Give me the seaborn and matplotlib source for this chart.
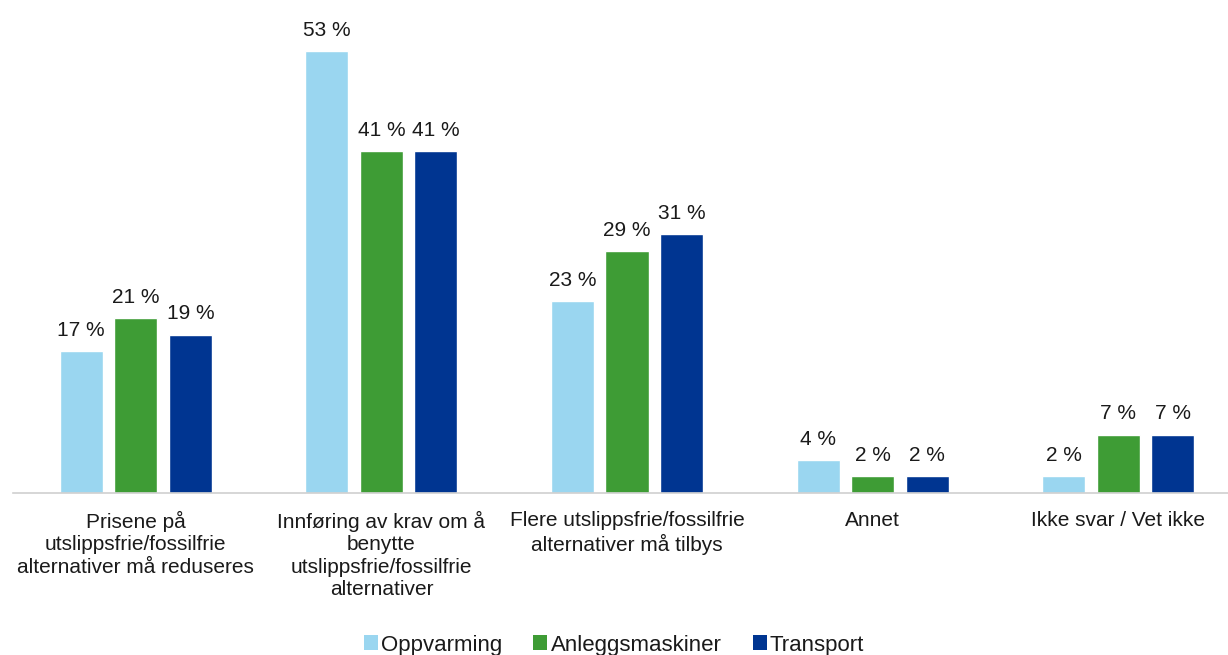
import matplotlib
matplotlib.use("Agg")
import matplotlib.pyplot as plt
import seaborn as sns
import pandas as pd
from matplotlib.patches import Patch

categories = [
    "Prisene på\nutslippsfrie/fossilfrie\nalternativer må reduseres",
    "Innføring av krav om å\nbenytte\nutslippsfrie/fossilfrie\nalternativer",
    "Flere utslippsfrie/fossilfrie\nalternativer må tilbys",
    "Annet",
    "Ikke svar / Vet ikke",
]
series = ["Oppvarming", "Anleggsmaskiner", "Transport"]
oppvarming = [17, 53, 23, 4, 2]
anleggsmaskiner = [21, 41, 29, 2, 7]
transport = [19, 41, 31, 2, 7]
colors = ["#9AD6F0", "#3E9C35", "#003591"]

rows = []
for name, vals in zip(series, [oppvarming, anleggsmaskiner, transport]):
    for c, v in zip(categories, vals):
        rows.append({"Kategori": c, "Serie": name, "Verdi": v})
df = pd.DataFrame(rows)

sns.set_theme(style="white")
plt.rcParams["font.family"] = ["Liberation Sans", "DejaVu Sans"]

fig = plt.figure(figsize=(12.28, 6.55), dpi=100)
ax = fig.add_axes([13 / 1228, (655 - 493) / 655, (1241 - 13) / 1228, (493 - 10) / 655])

sns.barplot(data=df, x="Kategori", y="Verdi", hue="Serie", order=categories,
            hue_order=series, palette=colors, width=0.666, gap=0.21,
            saturation=1, ax=ax, legend=False)

for cont in ax.containers:
    ax.bar_label(cont, labels=[f"{int(round(b.get_height()))} %" for b in cont],
                 padding=8, fontsize=15, color="#1a1a1a")

ax.set_ylim(0, 57.9)
ax.set_xlim(-0.5, 4.5)
ax.set_xlabel("")
ax.set_ylabel("")
ax.set_yticks([])
for s in ["top", "right", "left"]:
    ax.spines[s].set_visible(False)
ax.spines["bottom"].set_color("#d0d0d0")
ax.spines["bottom"].set_linewidth(1.2)
ax.tick_params(axis="x", length=0, pad=13, labelsize=15, labelcolor="#1a1a1a")
for t in ax.get_xticklabels():
    t.set_linespacing(1.22)

handles = [Patch(facecolor=c, edgecolor="none") for c in colors]
fig.legend(handles, series, loc="center", bbox_to_anchor=(0.5, 10 / 655), ncol=3,
           frameon=False, fontsize=16, handlelength=0.63, handleheight=0.63,
           handletextpad=0.15, columnspacing=1.4, labelcolor="#1a1a1a")

fig.savefig("out.png", dpi=100)
